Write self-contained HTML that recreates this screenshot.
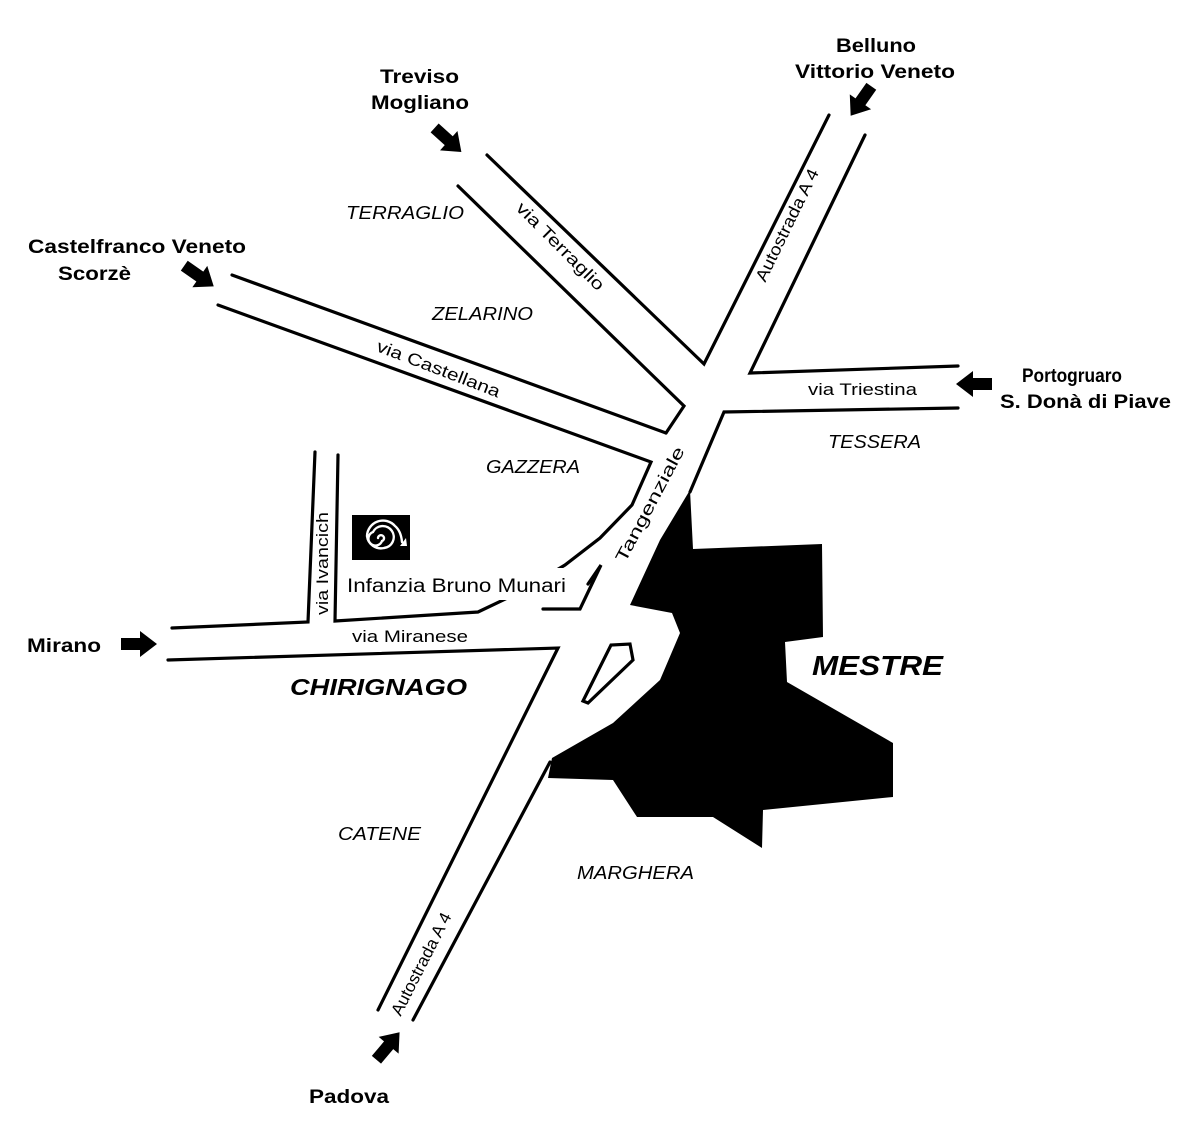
<!DOCTYPE html>
<html><head><meta charset="utf-8"><style>
html,body{margin:0;padding:0;background:#fff;}
svg{display:block;}
text{font-family:"Liberation Sans",Arial,sans-serif;fill:#000;}
.b{font-weight:bold;font-size:19px;}
.i{font-style:italic;font-size:18px;}
.r{font-size:17px;}
</style></head><body>
<svg width="1193" height="1146" viewBox="0 0 1193 1146" xmlns="http://www.w3.org/2000/svg">
<defs>
<path id="ar" d="M-18,-6 L1,-6 L1,-13 L18,0 L1,13 L1,6 L-18,6 Z" fill="#000"/>
</defs>
<g fill="none" stroke="#000" stroke-width="3.2" stroke-linejoin="miter" stroke-linecap="round">
<polyline points="487,155 704,364 829,115"/>
<polyline points="865,135 750,373 958,366"/>
<polyline points="958,408 724,412 690,492"/>
<polyline points="458,186 684,406 666,433"/>
<polyline points="232,275 666,433"/>
<polyline points="218,305 651,462 632,505 600,538 565,565 520,592 478,612 335,621 338,455"/>
<polyline points="315,452 308,622 172,628"/>
<polyline points="543,609 580,609 601,565 588,584"/>
<polyline points="168,660 558,648 378,1010"/>
<polyline points="413,1020 550,762"/>
<polygon points="583,701 611,645 630,644 633,660 588,703"/>
</g>
<polygon fill="#000" points="690,490 693,549 822,544 823,637 785,642 787,682 893,743 893,797 763,810 762,848 713,817 637,817 613,780 548,778 552,758 613,723 660,680 680,633 672,613 630,605 660,540"/>
<use href="#ar" transform="translate(448,140) rotate(42)"/>
<use href="#ar" transform="translate(861,101) rotate(125)"/>
<use href="#ar" transform="translate(199,276) rotate(35)"/>
<use href="#ar" transform="translate(974,384) rotate(180)"/>
<use href="#ar" transform="translate(139,644)"/>
<use href="#ar" transform="translate(388,1046) rotate(-50)"/>
<text class="b" x="380" y="83" textLength="79" lengthAdjust="spacingAndGlyphs">Treviso</text>
<text class="b" x="371" y="109" textLength="98" lengthAdjust="spacingAndGlyphs">Mogliano</text>
<text class="b" x="836" y="52" textLength="80" lengthAdjust="spacingAndGlyphs">Belluno</text>
<text class="b" x="795" y="78" textLength="160" lengthAdjust="spacingAndGlyphs">Vittorio Veneto</text>
<text class="b" x="28" y="253" textLength="218" lengthAdjust="spacingAndGlyphs">Castelfranco Veneto</text>
<text class="b" x="58" y="280" textLength="73" lengthAdjust="spacingAndGlyphs">Scorzè</text>
<text class="b" x="1022" y="382" textLength="100" lengthAdjust="spacingAndGlyphs">Portogruaro</text>
<text class="b" x="1000" y="408" textLength="171" lengthAdjust="spacingAndGlyphs">S. Donà di Piave</text>
<text class="b" x="27" y="652" textLength="74" lengthAdjust="spacingAndGlyphs">Mirano</text>
<text class="b" x="309" y="1103" textLength="80" lengthAdjust="spacingAndGlyphs">Padova</text>
<text class="i" x="346" y="219" textLength="118" lengthAdjust="spacingAndGlyphs">TERRAGLIO</text>
<text class="i" x="432" y="320" textLength="101" lengthAdjust="spacingAndGlyphs">ZELARINO</text>
<text class="i" x="486" y="473" textLength="94" lengthAdjust="spacingAndGlyphs">GAZZERA</text>
<text class="i" x="828" y="448" textLength="93" lengthAdjust="spacingAndGlyphs">TESSERA</text>
<text class="i" x="338" y="840" textLength="83" lengthAdjust="spacingAndGlyphs">CATENE</text>
<text class="i" x="577" y="879" textLength="117" lengthAdjust="spacingAndGlyphs">MARGHERA</text>
<text x="812" y="675" textLength="131" lengthAdjust="spacingAndGlyphs" style="font-weight:bold;font-style:italic;font-size:28px">MESTRE</text>
<text x="290" y="695" textLength="177" lengthAdjust="spacingAndGlyphs" style="font-weight:bold;font-style:italic;font-size:23px">CHIRIGNAGO</text>
<text class="r" x="-58" y="0" textLength="117" lengthAdjust="spacingAndGlyphs" transform="translate(556,250) rotate(45)">via Terraglio</text>
<text class="r" x="-61" y="0" textLength="123" lengthAdjust="spacingAndGlyphs" transform="translate(792,228) rotate(-64)">Autostrada A 4</text>
<text class="r" x="-65" y="0" textLength="131" lengthAdjust="spacingAndGlyphs" transform="translate(436,374) rotate(21)">via Castellana</text>
<text class="r" x="808" y="395" textLength="109" lengthAdjust="spacingAndGlyphs">via Triestina</text>
<text class="r" x="-64" y="0" textLength="128" lengthAdjust="spacingAndGlyphs" transform="translate(655,507) rotate(-62)">Tangenziale</text>
<text class="r" x="-51" y="0" textLength="103" lengthAdjust="spacingAndGlyphs" transform="translate(328,564) rotate(-90)">via Ivancich</text>
<text class="r" x="352" y="642" textLength="116" lengthAdjust="spacingAndGlyphs">via Miranese</text>
<text class="r" x="-56" y="0" textLength="113" lengthAdjust="spacingAndGlyphs" transform="translate(426,967) rotate(-63)">Autostrada A 4</text>
<rect x="352" y="515" width="58" height="45" fill="#000"/>
<g fill="none" stroke="#fff" stroke-width="2.4" stroke-linecap="round">
<path d="M378,538 a3,3 0 1 1 4,3 a7,7 0 1 1 -9,-9 a11,11 0 1 1 11,16 a14,14 0 0 1 -17,-12 a16,16 0 0 1 28,-10 q6,5 7,16"/>
</g>
<polygon points="400,546 407,546 406,538" fill="#fff"/>
<rect x="343" y="568" width="236" height="32" fill="#fff"/>
<text x="347" y="592" textLength="219" lengthAdjust="spacingAndGlyphs" style="font-size:19px">Infanzia Bruno Munari</text>
</svg>
</body></html>
